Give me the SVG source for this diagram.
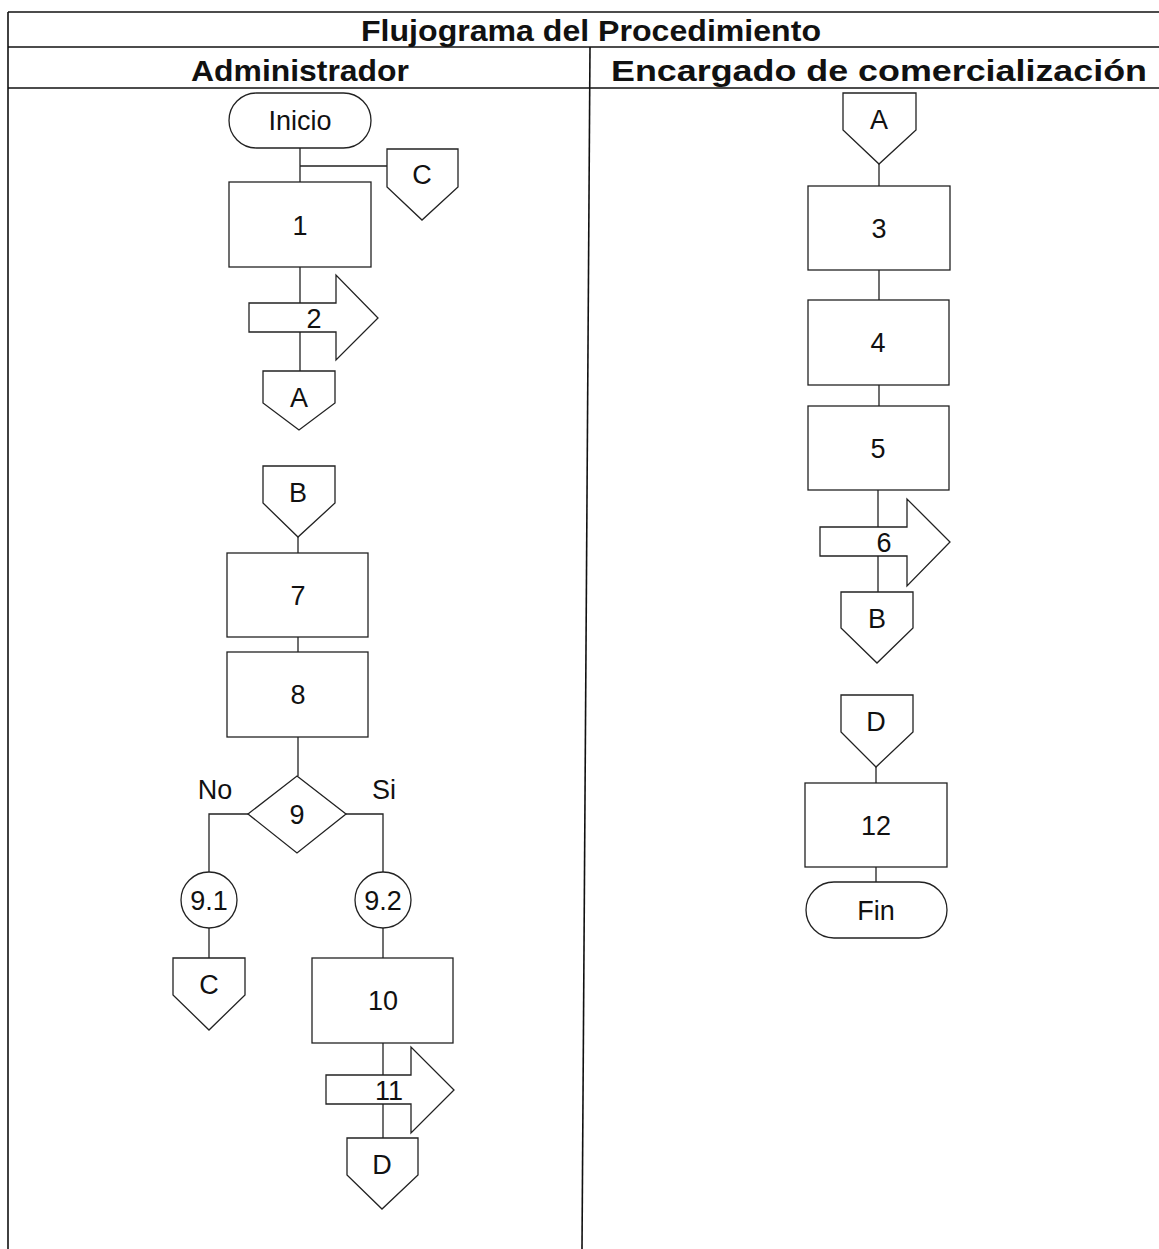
<svg xmlns="http://www.w3.org/2000/svg" width="1159" height="1249" viewBox="0 0 1159 1249">
<style>
.s{fill:#fff;stroke:#222;stroke-width:1.3}
.c{fill:none;stroke:#222;stroke-width:1.3}
.g{fill:none;stroke:#111;stroke-width:1.6}
.t{font-family:"Liberation Sans",Arial,sans-serif;font-size:27px;fill:#111;text-anchor:middle}
.h{font-family:"Liberation Sans",Arial,sans-serif;font-size:29px;font-weight:bold;fill:#111;text-anchor:middle}
</style>
<rect width="1159" height="1249" fill="#fff"/>
<g id="table">
<line class="g" x1="8" y1="12" x2="1159" y2="12"/>
<line class="g" x1="8" y1="47" x2="1159" y2="47"/>
<line class="g" x1="8" y1="88" x2="1159" y2="88"/>
<line class="g" x1="8" y1="12" x2="8" y2="1249"/>
<line class="g" x1="590" y1="47" x2="582" y2="1249"/>
<text class="h" x="591" y="41" textLength="460" lengthAdjust="spacingAndGlyphs">Flujograma del Procedimiento</text>
<text class="h" x="300" y="81" textLength="218" lengthAdjust="spacingAndGlyphs">Administrador</text>
<text class="h" x="879" y="81" textLength="536" lengthAdjust="spacingAndGlyphs">Encargado de comercialización</text>
</g>
<g id="connectors">
<path class="c" d="M300 148V371M300 166H387"/>
<path class="c" d="M298 537V553M298 637V652M298 737V776"/>
<path class="c" d="M248 814H209V872M209 928V958"/>
<path class="c" d="M346 814H383V872M383 928V958M383 1043V1138"/>
<path class="c" d="M879 164V186M879 270V300M879 385V406M878 490V592"/>
<path class="c" d="M876 767V783M876 867V882"/>
</g>
<g id="inicio"><rect class="s" x="229" y="93" width="142" height="55" rx="27.5"/><text class="t" x="300" y="130">Inicio</text></g>
<g id="offC1"><path class="s" d="M387 149H458V187L422 220L387 187Z"/><text class="t" x="422" y="184">C</text></g>
<g id="n1"><rect class="s" x="229" y="182" width="142" height="85"/><text class="t" x="300" y="235">1</text></g>
<g id="n2"><path class="s" d="M249 303H336V275L378 318L336 360V332H249Z"/><text class="t" x="314" y="328">2</text></g>
<g id="offA1"><path class="s" d="M263 371H335V403L299 430L263 403Z"/><text class="t" x="299" y="407">A</text></g>
<g id="offB2"><path class="s" d="M263 466H335V503L298 537L263 503Z"/><text class="t" x="298" y="502">B</text></g>
<g id="n7"><rect class="s" x="227" y="553" width="141" height="84"/><text class="t" x="298" y="605">7</text></g>
<g id="n8"><rect class="s" x="227" y="652" width="141" height="85"/><text class="t" x="298" y="704">8</text></g>
<g id="n9"><path class="s" d="M297 776L346 814L297 853L248 814Z"/><text class="t" x="297" y="824">9</text></g>
<text class="t" x="215" y="799">No</text>
<text class="t" x="384" y="799">Si</text>
<g id="n91"><circle class="s" cx="209" cy="900" r="28"/><text class="t" x="209" y="910">9.1</text></g>
<g id="n92"><circle class="s" cx="383" cy="900" r="28"/><text class="t" x="383" y="910">9.2</text></g>
<g id="offC2"><path class="s" d="M173 958H245V995L209 1030L173 995Z"/><text class="t" x="209" y="994">C</text></g>
<g id="n10"><rect class="s" x="312" y="958" width="141" height="85"/><text class="t" x="383" y="1010">10</text></g>
<g id="n11"><path class="s" d="M326 1075H411V1047L454 1090L411 1133V1104H326Z"/><text class="t" x="389" y="1100">11</text></g>
<g id="offD1"><path class="s" d="M347 1138H418V1175L382 1209L347 1175Z"/><text class="t" x="382" y="1174">D</text></g>
<g id="offA2"><path class="s" d="M843 93H916V130L879 164L843 130Z"/><text class="t" x="879" y="129">A</text></g>
<g id="n3"><rect class="s" x="808" y="186" width="142" height="84"/><text class="t" x="879" y="238">3</text></g>
<g id="n4"><rect class="s" x="808" y="300" width="141" height="85"/><text class="t" x="878" y="352">4</text></g>
<g id="n5"><rect class="s" x="808" y="406" width="141" height="84"/><text class="t" x="878" y="458">5</text></g>
<g id="n6"><path class="s" d="M820 527H907V499L950 542L907 586V556H820Z"/><text class="t" x="884" y="552">6</text></g>
<g id="offB1"><path class="s" d="M841 592H913V628L877 663L841 628Z"/><text class="t" x="877" y="628">B</text></g>
<g id="offD2"><path class="s" d="M841 695H913V732L876 767L841 732Z"/><text class="t" x="876" y="731">D</text></g>
<g id="n12"><rect class="s" x="805" y="783" width="142" height="84"/><text class="t" x="876" y="835">12</text></g>
<g id="fin"><rect class="s" x="806" y="882" width="141" height="56" rx="28"/><text class="t" x="876" y="920">Fin</text></g>
</svg>
